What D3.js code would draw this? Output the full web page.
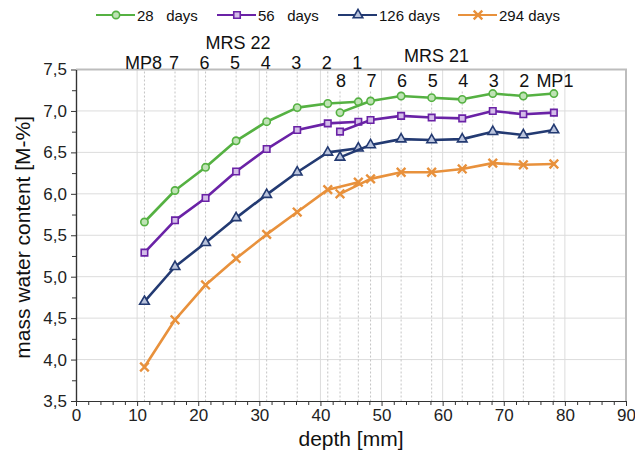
<!DOCTYPE html>
<html>
  <head>
    <meta charset="utf-8">
    <title>Mass water content by depth</title>
    <script src="https://cdn.jsdelivr.net/npm/d3@7"></script>
    <style>
      body { margin: 0; background: #fff; }
      svg { display: block; font-family: "Liberation Sans", Arial, sans-serif; }
      .grid line { stroke: #dcdcdc; stroke-width: 1; }
      .axis path, .axis line { stroke: #333; }
      .axis text { font-size: 17px; fill: #222; }
      .drop { stroke: #c4c4c4; stroke-width: 1; stroke-dasharray: 2,2; }
      .mp { font-size: 18px; fill: #111; text-anchor: middle; }
      .legend text { font-size: 15px; fill: #111; white-space: pre; }
    </style>
  </head>

  <body>
    <svg id="chart" width="635" height="458"></svg>

    <script>
      // data
      ages = ["28 days", "56 days", "126 days", "294 days"];
      legendLabels = ["28   days", "56   days", "126 days", "294 days"];
      colours = ["#55b142", "#6a22a6", "#233a72", "#e8913c"];
      fills = ["#bfe3b5", "#d3bde8", "#b9c3dc", "#f6d3ae"];

      depthMRS22 = [11.2, 16.2, 21.2, 26.2, 31.2, 36.2, 41.2, 46.2];
      labelsMRS22 = ["MP8", "7", "6", "5", "4", "3", "2", "1"];
      depthMRS21 = [43.2, 48.2, 53.2, 58.2, 63.2, 68.2, 73.2, 78.2];
      labelsMRS21 = ["8", "7", "6", "5", "4", "3", "2", "MP1"];

      mrs22 = [
        [5.66, 6.04, 6.32, 6.64, 6.87, 7.04, 7.09, 7.11],
        [5.29, 5.68, 5.95, 6.27, 6.54, 6.77, 6.85, 6.87],
        [4.70, 5.12, 5.41, 5.71, 5.99, 6.26, 6.50, 6.55],
        [3.91, 4.48, 4.90, 5.22, 5.51, 5.78, 6.05, 6.14]
      ];
      mrs21 = [
        [6.98, 7.12, 7.18, 7.16, 7.14, 7.21, 7.18, 7.21],
        [6.75, 6.89, 6.94, 6.92, 6.91, 7.00, 6.96, 6.98],
        [6.44, 6.59, 6.66, 6.65, 6.66, 6.75, 6.71, 6.77],
        [6.00, 6.18, 6.26, 6.26, 6.30, 6.37, 6.35, 6.36]
      ];

      xTicks = d3.range(0, 91, 10);
      yTicks = d3.range(3.5, 7.51, 0.5);

      // layout
      chart = d3.select("#chart");
      margin = { top: 69.5, right: 9, bottom: 57, left: 76 };
      width = 635;
      height = 458;

      x = d3.scaleLinear()
        .domain([0, 90])
        .range([margin.left, width - margin.right]);
      y = d3.scaleLinear()
        .domain([3.5, 7.5])
        .range([height - margin.bottom, margin.top]);

      // grid
      grid = chart.append("g").classed("grid", true);
      grid.selectAll(".gy")
          .data(yTicks.slice(1, -1))
        .enter().append("line")
          .attr("x1", x(0)).attr("x2", x(90))
          .attr("y1", d => y(d)).attr("y2", d => y(d));
      grid.selectAll(".gx")
          .data(xTicks.slice(1, -1))
        .enter().append("line")
          .attr("x1", d => x(d)).attr("x2", d => x(d))
          .attr("y1", y(7.5)).attr("y2", y(3.5));

      // measuring point drop lines
      chart.selectAll(".drop22")
          .data(depthMRS22)
        .enter().append("line")
          .classed("drop", true)
          .attr("x1", d => x(d)).attr("x2", d => x(d))
          .attr("y1", y(7.5) + 2).attr("y2", y(3.5));
      chart.selectAll(".drop21")
          .data(depthMRS21)
        .enter().append("line")
          .classed("drop", true)
          .attr("x1", d => x(d)).attr("x2", d => x(d))
          .attr("y1", y(7.5) + 22).attr("y2", y(3.5));

      // frame (top & right)
      chart.append("path")
        .attr("d", "M" + x(0) + "," + y(7.5) + "H" + x(90) + "V" + y(3.5))
        .attr("fill", "none")
        .attr("stroke", "#bdbdbd")
        .attr("stroke-width", 2);

      // axes
      xAxis = d3.axisBottom(x)
        .tickValues(xTicks)
        .tickSize(5)
        .tickPadding(3)
        .tickSizeOuter(0);
      xMinor = d3.axisBottom(x)
        .tickValues(d3.range(0, 91, 2).filter(d => d % 10))
        .tickSize(4)
        .tickFormat("")
        .tickSizeOuter(0);
      yAxis = d3.axisLeft(y)
        .tickValues(yTicks)
        .tickSize(5)
        .tickPadding(4)
        .tickFormat(d => d3.format(".1f")(d).replace(".", ","))
        .tickSizeOuter(0);
      yMinor = d3.axisLeft(y)
        .tickValues(d3.range(3.75, 7.5, 0.5))
        .tickSize(4)
        .tickFormat("")
        .tickSizeOuter(0);

      chart.append("g").classed("axis", true)
        .attr("transform", "translate(0," + y(3.5) + ")")
        .call(xMinor);
      chart.append("g").classed("axis", true)
        .attr("transform", "translate(0," + y(3.5) + ")")
        .call(xAxis);
      chart.append("g").classed("axis", true)
        .attr("transform", "translate(" + x(0) + ",0)")
        .call(yMinor);
      chart.append("g").classed("axis", true)
        .attr("transform", "translate(" + x(0) + ",0)")
        .call(yAxis);
      chart.selectAll(".axis .domain").attr("stroke-width", 1.2);

      // axis titles
      chart.append("text")
        .attr("x", (x(0) + x(90)) / 2)
        .attr("y", 446)
        .attr("text-anchor", "middle")
        .style("font-size", "21px")
        .style("fill", "#111")
        .text("depth [mm]");
      chart.append("text")
        .attr("transform", "translate(30," + ((y(3.5) + y(7.5)) / 2 + 2) + ") rotate(-90)")
        .attr("text-anchor", "middle")
        .style("font-size", "21px")
        .style("fill", "#111")
        .text("mass water content [M-%]");

      // measuring point labels
      chart.selectAll(".mp22")
          .data(depthMRS22)
        .enter().append("text")
          .classed("mp", true)
          .attr("x", d => x(d) - 1)
          .attr("y", 69)
          .text((d, i) => labelsMRS22[i]);
      chart.selectAll(".mp21")
          .data(depthMRS21)
        .enter().append("text")
          .classed("mp", true)
          .attr("x", d => x(d) + 1)
          .attr("y", 87)
          .text((d, i) => labelsMRS21[i]);
      chart.append("text").classed("mp", true)
        .attr("x", x(26.5)).attr("y", 49).text("MRS 22");
      chart.append("text").classed("mp", true)
        .attr("x", x(59)).attr("y", 62).text("MRS 21");

      // series
      symbols = [d3.symbolCircle, d3.symbolSquare, d3.symbolTriangle, d3.symbolTimes || d3.symbolCross];
      sizes = [42, 42, 40, 50];
      line = d3.line()
        .x(d => x(d[0]))
        .y(d => y(d[1]));

      function drawMarker(g, i) {
        g.append("path")
          .attr("d", d3.symbol().type(symbols[i]).size(sizes[i]))
          .attr("fill", i == 3 ? "none" : fills[i])
          .attr("stroke", colours[i])
          .attr("stroke-width", i == 3 ? 2.4 : 1.6);
      }

      ages.forEach((age, i) => {
        let g = chart.append("g");
        [[depthMRS22, mrs22[i]], [depthMRS21, mrs21[i]]].forEach(pair => {
          let pts = pair[0].map((d, j) => [d, pair[1][j]]);
          g.append("path")
            .attr("d", line(pts))
            .attr("fill", "none")
            .attr("stroke", colours[i])
            .attr("stroke-width", 2.6)
            .attr("stroke-linejoin", "round");
          pts.forEach(p => {
            drawMarker(g.append("g").attr("transform", "translate(" + x(p[0]) + "," + y(p[1]) + ")"), i);
          });
        });
      });

      // legend
      legendX = [96, 217, 338, 458];
      legend = chart.append("g").classed("legend", true);
      ages.forEach((age, i) => {
        let item = legend.append("g")
          .attr("transform", "translate(" + legendX[i] + ",15)");
        item.append("line")
          .attr("x1", 0).attr("x2", 39)
          .attr("stroke", colours[i])
          .attr("stroke-width", 2);
        drawMarker(item.append("g").attr("transform", "translate(20,0)"), i);
        item.append("text")
          .attr("x", 41)
          .attr("y", 5.5)
          .text(legendLabels[i]);
      });
    </script>
  </body>
</html>
